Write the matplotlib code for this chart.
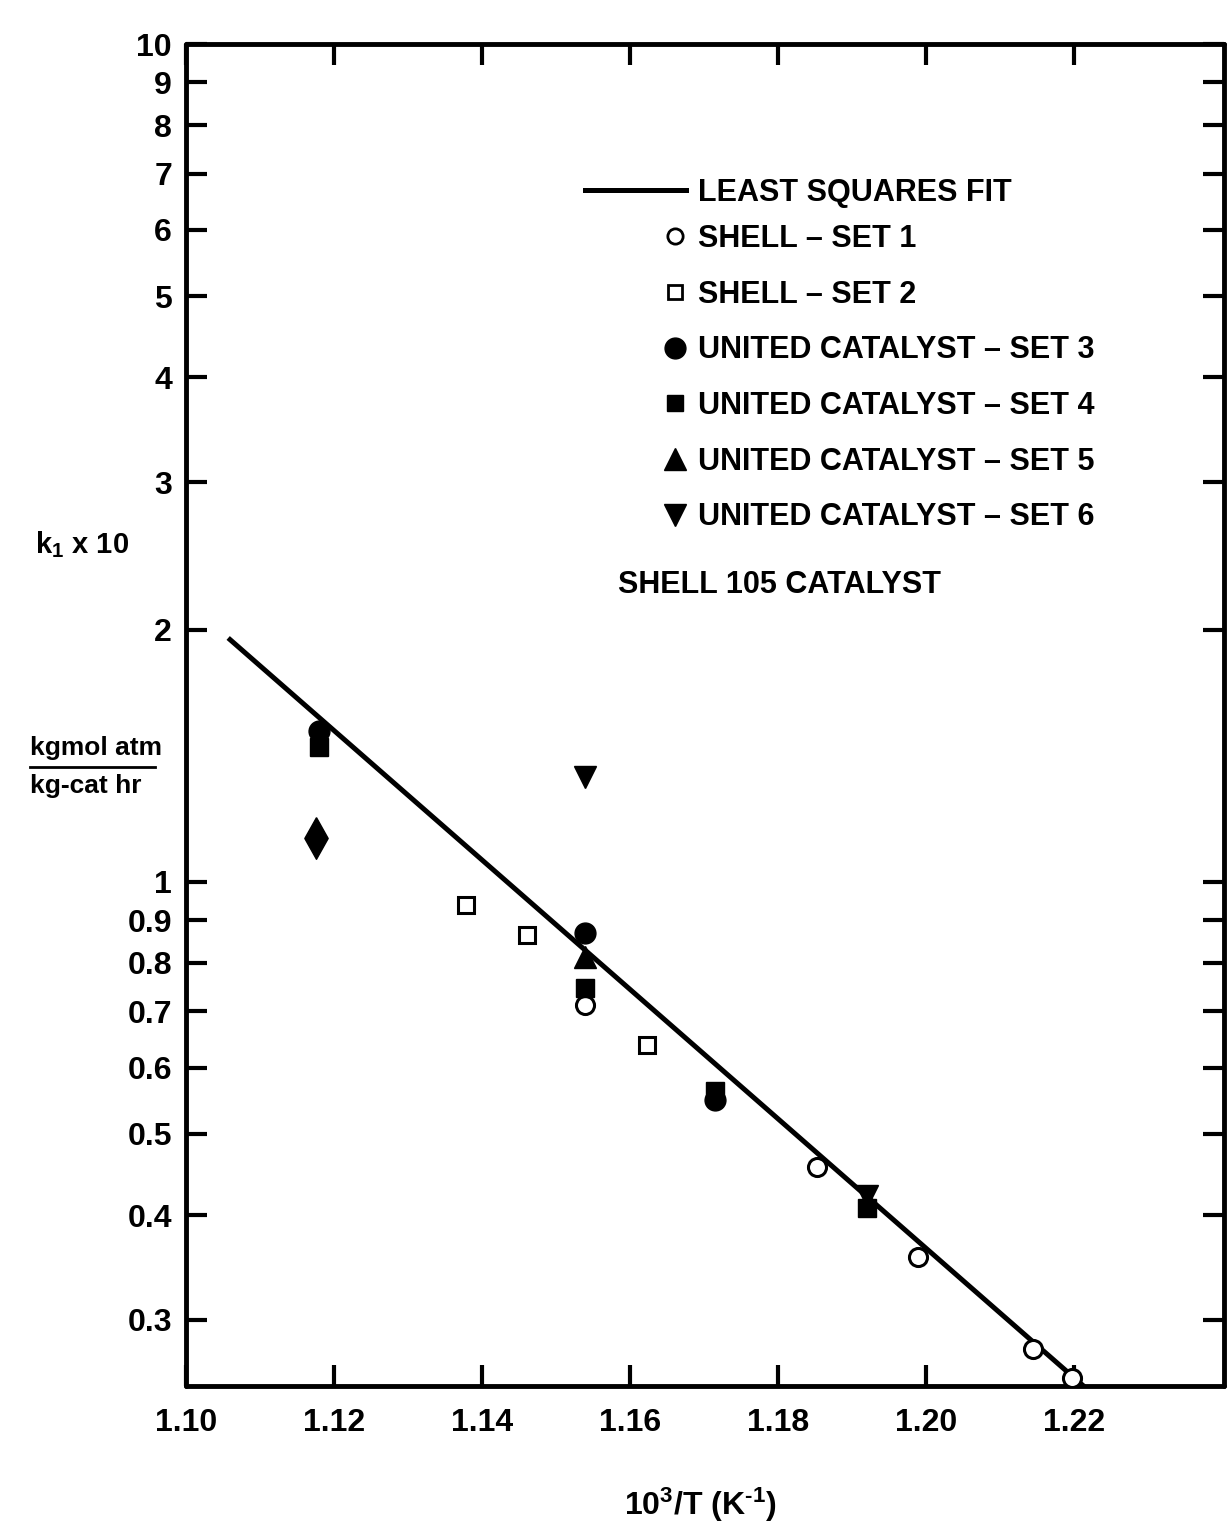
import matplotlib
matplotlib.use("Agg")
import matplotlib.pyplot as plt
from matplotlib.lines import Line2D

# ---- data -------------------------------------------------------------
# least squares fit, drawn between its two end points (x = 10^3/T, y = k1 x 10)
fit_x = [1.1057, 1.2219]
fit_y = [1.954, 0.2473]

set1_x = [1.1539, 1.1853, 1.1989, 1.2145, 1.2197]   # Shell - set 1
set1_y = [0.712, 0.4565, 0.3565, 0.2768, 0.2556]
set2_x = [1.1378, 1.1461, 1.1623]                    # Shell - set 2
set2_y = [0.938, 0.864, 0.638]
set3_x = [1.118, 1.1539, 1.1715]                     # United Catalyst - set 3
set3_y = [1.513, 0.869, 0.549]
set4_x = [1.118, 1.1539, 1.1715, 1.192]              # United Catalyst - set 4
set4_y = [1.448, 0.747, 0.5625, 0.408]
set5_x = [1.1539]                                    # United Catalyst - set 5
set5_y = [0.813]
set6_x = [1.1539, 1.192]                             # United Catalyst - set 6
set6_y = [1.334, 0.4215]
extra_x = [1.1176]                                   # unlabelled diamond point
extra_y = [1.128]

x_ticks = [1.10, 1.12, 1.14, 1.16, 1.18, 1.20, 1.22]
x_tick_labels = ["1.10", "1.12", "1.14", "1.16", "1.18", "1.20", "1.22"]
y_ticks = [0.3, 0.4, 0.5, 0.6, 0.7, 0.8, 0.9, 1, 2, 3, 4, 5, 6, 7, 8, 9, 10]
y_tick_labels = ["0.3", "0.4", "0.5", "0.6", "0.7", "0.8", "0.9",
                 "1", "2", "3", "4", "5", "6", "7", "8", "9", "10"]

legend_labels = ["LEAST SQUARES FIT",
                 "SHELL \u2013 SET 1",
                 "SHELL \u2013 SET 2",
                 "UNITED CATALYST \u2013 SET 3",
                 "UNITED CATALYST \u2013 SET 4",
                 "UNITED CATALYST \u2013 SET 5",
                 "UNITED CATALYST \u2013 SET 6"]

# ---- style ------------------------------------------------------------
FONT = ["Liberation Sans", "DejaVu Sans"]
plt.rcParams["font.family"] = FONT
plt.rcParams["font.weight"] = "bold"
plt.rcParams["mathtext.fontset"] = "custom"
plt.rcParams["mathtext.rm"] = "Liberation Sans:bold"
plt.rcParams["mathtext.it"] = "Liberation Sans:bold"
plt.rcParams["mathtext.bf"] = "Liberation Sans:bold"
plt.rcParams["mathtext.default"] = "rm"

W, H = 1230, 1533
fig = plt.figure(figsize=(W / 100, H / 100), dpi=100)
fig.patch.set_facecolor("white")

L, R, T, B = 186, 1224, 44, 1386
ax = fig.add_axes([L / W, 1 - B / H, (R - L) / W, (B - T) / H])
ax.set_yscale("log")
ax.set_xlim(1.10, 1.10 + (R - L) / 7400)
ax.set_ylim(0.25, 10)

for sp in ax.spines.values():
    sp.set_linewidth(3.5)
    sp.set_capstyle("round")

ax.set_xticks(x_ticks)
ax.set_xticklabels(x_tick_labels)
ax.set_yticks(y_ticks)
ax.set_yticklabels(y_tick_labels)
ax.set_yticks([1], minor=True)
ax.set_xticks([], minor=True)
ax.tick_params(axis="both", which="major", direction="in", length=15, width=3,
               labelsize=23, top=True, right=True)
ax.tick_params(axis="y", which="minor", direction="in", length=32, width=3,
               right=True, labelleft=False)
ax.tick_params(axis="x", which="major", pad=16)
ax.tick_params(axis="y", which="major", pad=10)

# ---- marks ------------------------------------------------------------
ax.plot(fit_x, fit_y, color="black", lw=3.6, solid_capstyle="butt", zorder=2)

ms_open = dict(mfc="white", mec="black", mew=2.2, ls="none", zorder=3)
ms_fill = dict(mfc="black", mec="black", mew=1, ls="none", zorder=3)
diamond = [(0, 1), (0.56, 0), (0, -1), (-0.56, 0), (0, 1)]

ax.plot(set1_x, set1_y, marker="o", ms=13, **ms_open)
ax.plot(set2_x, set2_y, marker="s", ms=12, **ms_open)
ax.plot(set3_x, set3_y, marker="o", ms=15, **ms_fill)
ax.plot(set4_x, set4_y, marker="s", ms=13, **ms_fill)
ax.plot(set5_x, set5_y, marker="^", ms=16, **ms_fill)
ax.plot(set6_x, set6_y, marker="v", ms=16, **ms_fill)
ax.plot(extra_x, extra_y, marker=diamond, ms=30, **ms_fill)

# ---- legend -----------------------------------------------------------
fit_handle = Line2D([], [], color="black", lw=3.6)
leg_a = ax.legend([fit_handle], legend_labels[:1], loc="upper left",
                  bbox_to_anchor=(585 / W, 1 - 178 / H), bbox_transform=fig.transFigure,
                  frameon=False, borderpad=0, borderaxespad=0,
                  handlelength=3.3, handletextpad=0.4, fontsize=22)
ax.add_artist(leg_a)

mk = [Line2D([], [], marker="o", ms=11, mfc="white", mec="black", mew=2, ls="none"),
      Line2D([], [], marker="s", ms=10, mfc="white", mec="black", mew=2, ls="none"),
      Line2D([], [], marker="o", ms=15, mfc="black", mec="black", ls="none"),
      Line2D([], [], marker="s", ms=12, mfc="black", mec="black", ls="none"),
      Line2D([], [], marker="^", ms=16, mfc="black", mec="black", ls="none"),
      Line2D([], [], marker="v", ms=16, mfc="black", mec="black", ls="none")]
ax.legend(mk, legend_labels[1:], loc="upper left",
          bbox_to_anchor=(663 / W, 1 - 224 / H), bbox_transform=fig.transFigure,
          frameon=False, borderpad=0, borderaxespad=0,
          handlelength=0.8, handletextpad=0.35, labelspacing=0.84, fontsize=22)

fig.text(618 / W, 1 - 585 / H, "SHELL 105 CATALYST", fontsize=22,
         va="center", ha="left")

# ---- axis titles ------------------------------------------------------
fig.text(35 / W, 1 - 545 / H, r"k$_{1}$ x 10", fontsize=21, va="center", ha="left")
fig.text(30 / W, 1 - 748 / H, "kgmol atm", fontsize=19, va="center", ha="left")
fig.add_artist(Line2D([30 / W, 155 / W], [1 - 767 / H, 1 - 767 / H],
                      transform=fig.transFigure, color="black", lw=2))
fig.text(30 / W, 1 - 786 / H, "kg-cat hr", fontsize=19, va="center", ha="left")

fig.text(700 / W, 1 - 1505 / H, r"10$^{3}$/T (K$^{\text{-}1}$)", fontsize=23,
         va="center", ha="center")

fig.savefig("out.png", dpi=100, facecolor="white")
